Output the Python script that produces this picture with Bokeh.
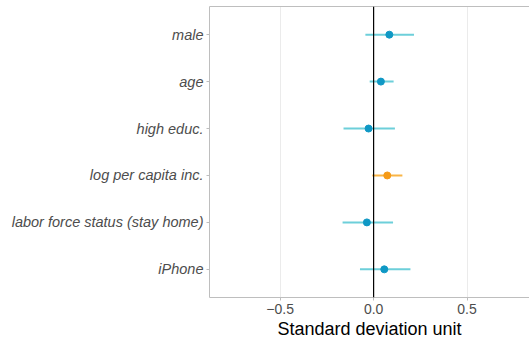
from bokeh.plotting import figure
from bokeh.models import FixedTicker, Span, LinearAxis, ColumnDataSource
from bokeh.embed import file_html
from bokeh.resources import INLINE

categories = ["male", "age", "high educ.", "log per capita inc.",
              "labor force status (stay home)", "iPhone"]
estimates = [0.084, 0.039, -0.027, 0.073, -0.036, 0.057]
lower = [-0.044, -0.021, -0.161, -0.007, -0.166, -0.073]
upper = [0.216, 0.107, 0.114, 0.154, 0.104, 0.197]
highlight = [False, False, False, True, False, False]
x_ticks = [-0.5, 0.0, 0.5]
x_tick_labels = ["\u22120.5", "0.0", "0.5"]

n = len(categories)
ypos = [n - i for i in range(n)]
line_col = ["#F9B547" if h else "#6DCFDA" for h in highlight]
pt_col = ["#F59A17" if h else "#0F98C5" for h in highlight]

src = ColumnDataSource(dict(y=ypos, est=estimates, lo=lower, hi=upper,
                            lc=line_col, pc=pt_col))

p = figure(width=529, height=341, output_backend="svg", toolbar_location=None,
           x_range=(-0.878, 0.834), y_range=(0.4, n + 0.6),
           min_border_left=209, min_border_right=0, min_border_top=6,
           min_border_bottom=44)
p.outline_line_color = None
p.background_fill_color = "white"

p.xgrid.ticker = FixedTicker(ticks=x_ticks)
p.xgrid.grid_line_color = "#EBEBEB"
p.xgrid.grid_line_width = 1
p.ygrid.grid_line_color = None

p.add_layout(Span(location=0, dimension="height", line_color="black", line_width=1.2))

p.segment(x0="lo", x1="hi", y0="y", y1="y", source=src, line_color="lc", line_width=2)
p.scatter(x="est", y="y", source=src, fill_color="pc", line_color="pc", size=7)

xa = p.xaxis[0]
xa.ticker = FixedTicker(ticks=x_ticks)
xa.major_label_overrides = {t: l for t, l in zip(x_ticks, x_tick_labels)}
xa.axis_label = "Standard deviation unit"
xa.axis_label_text_font = "Liberation Sans"
xa.axis_label_text_font_style = "normal"
xa.axis_label_text_font_size = "18px"
xa.axis_label_text_color = "black"
xa.axis_label_standoff = 2
xa.major_label_text_font = "Liberation Sans"
xa.major_label_text_font_size = "14px"
xa.major_label_text_color = "#4D4D4D"
xa.axis_line_color = "#BEBEBE"
xa.major_tick_line_color = "#BEBEBE"
xa.major_tick_in = 0
xa.major_tick_out = 3
xa.minor_tick_line_color = None
xa.major_label_standoff = 3

ya = p.yaxis[0]
ya.ticker = FixedTicker(ticks=ypos)
ya.major_label_overrides = {y: c for y, c in zip(ypos, categories)}
ya.major_label_text_font = "Liberation Sans"
ya.major_label_text_font_style = "italic"
ya.major_label_text_font_size = "14.5px"
ya.major_label_text_color = "#4D4D4D"
ya.axis_line_color = "#BEBEBE"
ya.major_tick_line_color = "#BEBEBE"
ya.major_tick_in = 0
ya.major_tick_out = 3
ya.minor_tick_line_color = None
ya.major_label_standoff = 3

top = LinearAxis(axis_line_color="#BEBEBE", major_tick_line_color=None,
                 minor_tick_line_color=None, major_label_text_font_size="0px",
                 major_label_standoff=0, ticker=FixedTicker(ticks=[]))
p.add_layout(top, "above")

open("out.html", "w").write(file_html(p, INLINE))
